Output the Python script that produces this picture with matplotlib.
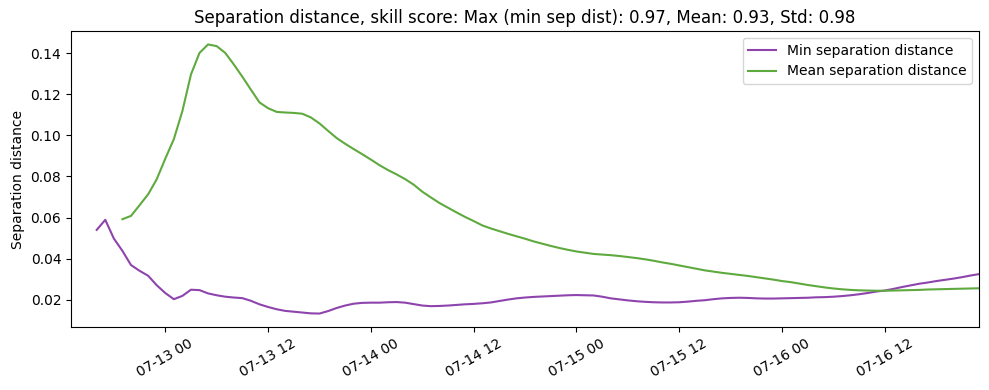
import pandas as pd
import matplotlib
matplotlib.use("Agg")
import matplotlib.pyplot as plt
import matplotlib.dates as mdates

# hourly values, min series starts 07-12 16:00, mean series starts 07-12 19:00
min_start = "2023-07-12 16:00"
mean_start = "2023-07-12 19:00"

min_sep = [
    0.0540, 0.0589, 0.0498, 0.0438, 0.0369, 0.0341, 0.0317, 0.0271,
    0.0233, 0.0203, 0.0219, 0.0249, 0.0247, 0.0231, 0.0222, 0.0215, 0.0211, 0.0208,
    0.0195, 0.0178, 0.0165, 0.0154, 0.0146, 0.0142, 0.0138, 0.0134, 0.0133, 0.0145,
    0.0160, 0.0172, 0.0181, 0.0185, 0.0186, 0.0186, 0.0188, 0.0189, 0.0186, 0.0179,
    0.0172, 0.0169, 0.0170, 0.0172, 0.0175, 0.0178, 0.0180, 0.0183, 0.0187, 0.0194,
    0.0201, 0.0207, 0.0211, 0.0214, 0.0216, 0.0218, 0.0220, 0.0222, 0.0223, 0.0222,
    0.0221, 0.0215, 0.0207, 0.0202, 0.0197, 0.0193, 0.0190, 0.0188, 0.0187, 0.0187,
    0.0188, 0.0191, 0.0195, 0.0198, 0.0203, 0.0207, 0.0209, 0.0210, 0.0209, 0.0207,
    0.0206, 0.0206, 0.0207, 0.0208, 0.0209, 0.0210, 0.0212, 0.0213, 0.0215, 0.0218,
    0.0222, 0.0227, 0.0233, 0.0240, 0.0245, 0.0253, 0.0262, 0.0270, 0.0278, 0.0284,
    0.0291, 0.0297, 0.0303, 0.0310, 0.0318, 0.0325,
]

mean_sep = [
    0.0592, 0.0608, 0.0660, 0.0713, 0.0786,
    0.0886, 0.0981, 0.1118, 0.1296, 0.1401, 0.1442, 0.1434, 0.1401, 0.1345, 0.1285,
    0.1222, 0.1160, 0.1132, 0.1114, 0.1111, 0.1109, 0.1105, 0.1087, 0.1058, 0.1022,
    0.0987, 0.0959, 0.0933, 0.0908, 0.0882, 0.0855, 0.0831, 0.0810, 0.0787, 0.0760,
    0.0726, 0.0698, 0.0671, 0.0648, 0.0625, 0.0603, 0.0583, 0.0562, 0.0547, 0.0534,
    0.0521, 0.0509, 0.0497, 0.0484, 0.0473, 0.0462, 0.0452, 0.0443, 0.0435, 0.0429,
    0.0423, 0.0420, 0.0417, 0.0413, 0.0408, 0.0403, 0.0397, 0.0390, 0.0382, 0.0375,
    0.0367, 0.0359, 0.0351, 0.0343, 0.0337, 0.0331, 0.0326, 0.0321, 0.0316, 0.0310,
    0.0304, 0.0298, 0.0291, 0.0286, 0.0279, 0.0272, 0.0266, 0.0260, 0.0255, 0.0251,
    0.0248, 0.0246, 0.0245, 0.0244, 0.0244, 0.0245, 0.0246, 0.0247, 0.0248, 0.0250,
    0.0251, 0.0252, 0.0253, 0.0254, 0.0255, 0.0256,
]

x_range = ("2023-07-12 13:00", "2023-07-16 23:00")
title = "Separation distance, skill score: Max (min sep dist): 0.97, Mean: 0.93, Std: 0.98"

min_times = pd.date_range(min_start, periods=len(min_sep), freq="h")
mean_times = pd.date_range(mean_start, periods=len(mean_sep), freq="h")

fig, ax = plt.subplots(figsize=(9.89, 3.9), dpi=100)
ax.plot(min_times, min_sep, color="#8E44AD", lw=1.5, label="Min separation distance")
ax.plot(mean_times, mean_sep, color="#5FAA3F", lw=1.5, label="Mean separation distance")

ax.set_xlim(pd.Timestamp(x_range[0]), pd.Timestamp(x_range[1]))
ax.xaxis.set_major_locator(mdates.HourLocator(byhour=[0, 12]))
ax.xaxis.set_major_formatter(mdates.DateFormatter("%m-%d %H"))
plt.setp(ax.get_xticklabels(), rotation=30, ha="center")

ax.set_ylabel("Separation distance")
ax.set_title(title)
ax.legend(loc="upper right")

fig.subplots_adjust(left=0.0718, right=0.990, top=0.9205, bottom=0.1615)
fig.savefig("out.png", dpi=100)
